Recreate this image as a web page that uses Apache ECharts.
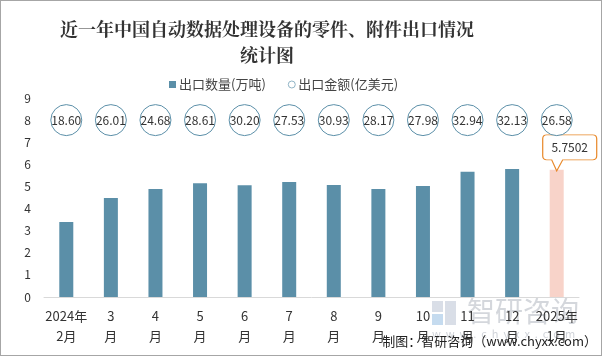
<!DOCTYPE html>
<html><head><meta charset="utf-8">
<script src="https://cdn.jsdelivr.net/npm/echarts@6/dist/echarts.min.js"></script>
<style>
html,body{margin:0;padding:0;background:#fff;}
#c{width:600px;height:354px;border:1px solid #a6a6a6;}
</style></head>
<body><div id="c"></div>
<script>
const categories = ['2024年\n2月','3\n月','4\n月','5\n月','6\n月','7\n月','8\n月','9\n月','10\n月','11\n月','12\n月','2025年\n1月'];
const quantity = [3.39, 4.48, 4.89, 5.14, 5.05, 5.20, 5.07, 4.89, 5.02, 5.66, 5.79, 5.7502];
const amount = [18.60, 26.01, 24.68, 28.61, 30.20, 27.53, 30.93, 28.17, 27.98, 32.94, 32.13, 26.58];
const amountRow = 8;
const yTicks = [0,1,2,3,4,5,6,7,8,9];

const font = '"Noto Sans CJK SC", "Microsoft YaHei", sans-serif';
const chart = echarts.init(document.getElementById('c'));
const lastIdx = quantity.length - 1;
const callout = 'path://M4,0 L50,0 Q54,0 54,4 L54,21 Q54,25 50,25 L20,25 L14,36 L9,25 L4,25 Q0,25 0,21 L0,4 Q0,0 4,0 Z';

chart.setOption({
  animation: false,
  textStyle: {fontFamily: font},
  title: {
    text: '近一年中国自动数据处理设备的零件、附件出口情况\n统计图',
    left: 261, textAlign: 'center', top: 10,
    textStyle: {fontSize: 18, fontWeight: 'bold', color: '#333', lineHeight: 26, fontFamily: '"Noto Serif CJK SC","Noto Sans CJK SC", serif'}
  },
  legend: {
    top: 72, left: 163, itemGap: 22, itemWidth: 7, itemHeight: 7,
    textStyle: {fontSize: 13, color: '#444', padding: [0,0,0,-2]},
    data: [
      {name: '出口数量(万吨)', icon: 'rect'},
      {name: '出口金额(亿美元)', icon: 'circle', itemStyle: {color: '#fff', borderColor: '#8fb3c5', borderWidth: 1}}
    ]
  },
  grid: {left: 43, right: 22, top: 97, bottom: 58},
  xAxis: {
    type: 'category', data: categories,
    axisLine: {lineStyle: {color: '#d9d9d9'}},
    axisTick: {show: false},
    axisLabel: {color: '#333', fontSize: 13, lineHeight: 20, margin: 9, interval: 0}
  },
  yAxis: {
    type: 'value', min: yTicks[0], max: yTicks[yTicks.length-1], interval: 1,
    splitLine: {show: false},
    axisLine: {show: false}, axisTick: {show: false},
    axisLabel: {color: '#333', fontSize: 12, margin: 13}
  },
  series: [
    {
      name: '出口数量(万吨)', type: 'bar', barWidth: 14,
      data: quantity.map((v,i) => ({value: v, itemStyle: {color: i === lastIdx ? '#f8d3c9' : '#5b8fa8'}})),
      itemStyle: {color: '#5b8fa8'},
      markPoint: {
        symbol: callout, symbolSize: [54, 36], symbolKeepAspect: false,
        symbolOffset: [13, -17],
        itemStyle: {color: '#fff', borderColor: '#e8892b', borderWidth: 1},
        label: {show: true, color: '#333', fontSize: 12, offset: [0, -5],
          formatter: p => String(quantity[lastIdx])},
        data: [{coord: [lastIdx, quantity[lastIdx]], value: quantity[lastIdx]}]
      }
    },
    {
      name: '出口金额(亿美元)', type: 'scatter', symbol: 'circle', symbolSize: 31,
      data: amount.map((a,i) => [i, amountRow, a]),
      itemStyle: {color: '#fff', borderColor: '#5b8fa8', borderWidth: 1, opacity: 1},
      label: {show: true, position: 'inside', color: '#333', fontSize: 12,
        formatter: p => p.value[2].toFixed(2)},
      z: 5
    }
  ],
  graphic: [
    {type: 'group', left: 431, top: 296, silent: true, z: 0, children: [
      {type: 'rect', shape: {x: 0, y: 1, width: 11, height: 11}, style: {fill: 'rgba(185,195,212,0.55)'}},
      {type: 'rect', shape: {x: 0, y: 14, width: 11, height: 11}, style: {fill: 'rgba(150,190,225,0.55)'}},
      {type: 'rect', shape: {x: 13, y: 1, width: 11, height: 24}, style: {fill: 'rgba(185,195,212,0.55)'}},
      {type: 'text', x: 35, y: -3, style: {text: '智研咨询', fontSize: 28, fill: 'rgba(170,175,185,0.5)', fontFamily: font}},
      {type: 'text', x: 0, y: 28, style: {text: 'w  w  w  .  c  h  y  x  x  .  c  o  m', fontSize: 11, fill: 'rgba(170,175,185,0.55)', fontFamily: font}}
    ]},
    {type: 'text', right: 4, top: 334, z: 10,
      style: {text: '制图：智研咨询（www.chyxx.com）', fontSize: 13, fill: '#222', fontFamily: font}}
  ]
});
</script></body></html>
